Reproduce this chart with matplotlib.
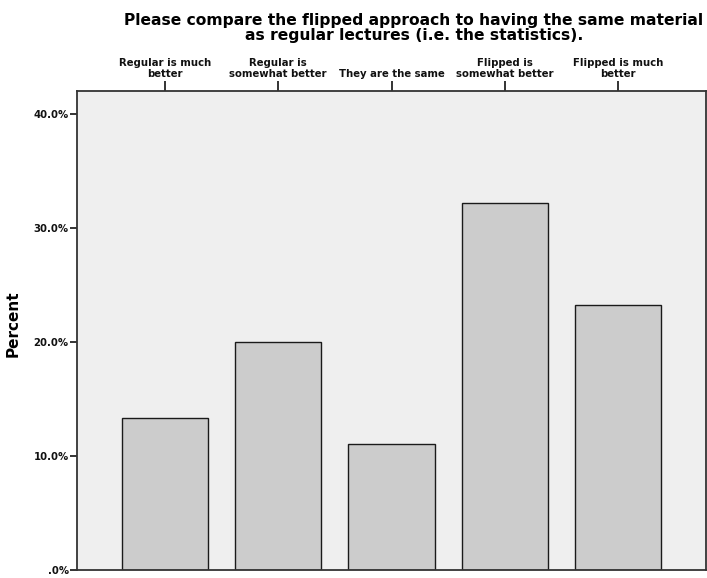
import matplotlib.pyplot as plt
from matplotlib.ticker import FuncFormatter

# Survey answers and share of respondents (percent)
categories = [
    "Regular is much\nbetter",
    "Regular is\nsomewhat better",
    "They are the same",
    "Flipped is\nsomewhat better",
    "Flipped is much\nbetter",
]
percents = [13.3, 20.0, 11.1, 32.2, 23.3]
y_ticks = [0, 10, 20, 30, 40]

title = ("Please compare the flipped approach to having the same material\n"
         "as regular lectures (i.e. the statistics).")

plt.rcParams["font.family"] = ["DejaVu Sans"]

fig = plt.figure(figsize=(7.07, 5.78), dpi=100)
ax = fig.add_axes([77 / 707, 8 / 578, 629 / 707, 479 / 578])
ax.set_facecolor("#efefef")

x = list(range(len(categories)))
ax.bar(x, percents, width=0.76, color="#cccccc", edgecolor="#1a1a1a",
       linewidth=1.0, zorder=2)

ax.set_xlim(-0.777, len(categories) - 1 + 0.777)
ax.set_ylim(0, 42.05)

ax.set_yticks(y_ticks)
ax.yaxis.set_major_formatter(
    FuncFormatter(lambda v, p: ".0%" if v == 0 else f"{v:.1f}%"))
ax.tick_params(axis="y", direction="out", length=5, width=1.2, pad=1,
               labelsize=7.3, colors="#111111")
for lab in ax.get_yticklabels():
    lab.set_fontweight("bold")

ax.xaxis.tick_top()
ax.set_xticks(x)
ax.set_xticklabels(categories, fontsize=7.3, fontweight="bold",
                   linespacing=1.2)
ax.tick_params(axis="x", direction="out", length=7, width=1.2, pad=1.5,
               colors="#111111")

for side in ["left", "right", "top", "bottom"]:
    ax.spines[side].set_color("#333333")
    ax.spines[side].set_linewidth(1.3)

ax.set_ylabel("Percent", fontsize=11, fontweight="bold")
ax.yaxis.set_label_coords(-0.089, 0.514)

fig.text(414 / 707, 1 - 28 / 578, title, ha="center", va="center",
         fontsize=11.2, fontweight="bold", linespacing=1.0)

fig.savefig("out.png", dpi=100)
